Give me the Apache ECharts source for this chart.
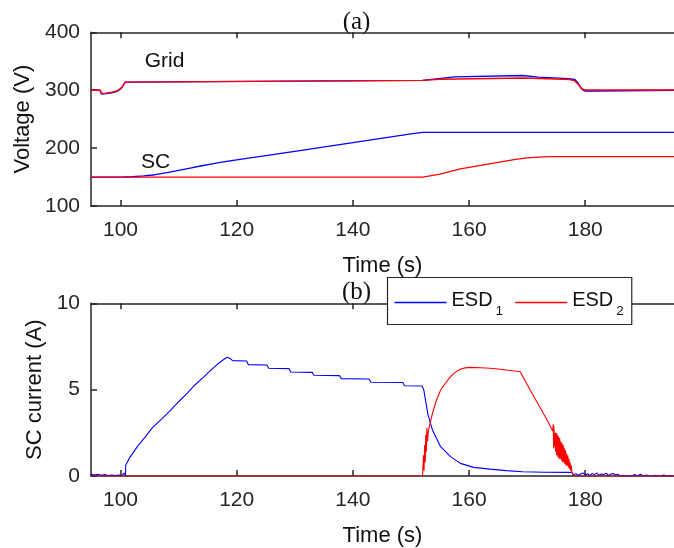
<!DOCTYPE html>
<html><head><meta charset="utf-8">
<script src="https://cdn.jsdelivr.net/npm/echarts/dist/echarts.min.js"></script>
<style>html,body{margin:0;padding:0;background:#fff}#c{width:674px;height:548px}</style>
</head><body><div id="c"></div>
<script>
// ---------- DATA ----------
const xTickValues = [100, 120, 140, 160, 180];
const vTicks = [100, 200, 300, 400];
const iTicks = [0, 5, 10];

// (a) grid voltage, ESD1 (blue) and ESD2 (red)
const tGrid1 = [94.9, 96.5, 96.7, 97.5, 98.5, 99.3, 99.8, 100.2, 100.5, 100.8, 101.0, 152.0, 152.2, 154.7, 154.8, 157.5, 157.6, 169.2, 169.3, 171.9, 172.0, 177.2, 178.2, 178.8, 179.4, 180.0, 182.1, 182.3, 195.3];
const vGrid1 = [300, 300, 293.5, 294, 295.5, 297.5, 300.5, 304, 309, 314, 317, 317, 320, 320, 323, 323, 325.5, 325.5, 322.5, 322.5, 320.5, 320, 318.5, 312, 302, 298.5, 298.5, 300, 300];
const tGrid2 = [94.9, 96.5, 96.7, 97.5, 98.5, 99.3, 99.8, 100.2, 100.5, 100.8, 101.0, 152.0, 152.2, 155.0, 155.1, 169.5, 169.6, 177.4, 178.2, 178.8, 179.4, 180.0, 195.3];
const vGrid2 = [300, 300, 294.5, 295, 296.5, 298.5, 301.5, 304.5, 309, 314, 317, 317, 319, 319, 321, 321, 319, 318.5, 316, 310, 302, 300.3, 300.3];

// (a) SC voltage
const tSc1 = [94.9, 100, 102, 104, 106, 108, 110, 112, 114, 116, 118, 120, 130, 140, 150, 152, 153, 160, 195.3];
const vSc1 = [150, 150, 150.5, 152, 154, 157.5, 161.5, 165.5, 169.5, 173, 176.5, 179.5, 194.5, 209.5, 224.5, 227, 227, 227, 227];
const tSc2 = [94.9, 152, 153, 155, 158.5, 162, 165, 168, 170, 172, 174, 176, 195.3];
const vSc2 = [150, 150, 151.5, 155, 164, 170, 175.5, 180.5, 183, 184.5, 185.2, 185.3, 185.2];

// (b) SC current ESD1
const tCur1 = [94.9, 95.2, 95.5, 95.8, 96.1, 96.4, 96.7, 97.0, 97.3, 97.6, 97.9, 98.2, 98.5, 98.8, 99.1, 99.4, 99.7, 100.0, 100.3, 100.6, 100.85,
  100.9, 101.5, 102.9, 104.3, 105.5, 107.2, 108.6, 110, 111.5, 112.8, 114.2, 115.6, 117, 118.0, 118.4, 118.8, 119.3,
  121.7, 122.0, 125.2, 125.5, 129.0, 129.3, 133.0, 133.3, 137.7, 138.0, 142.8, 143.1, 148.6, 148.9, 151.9,
  152.2, 152.9, 153.7, 155.1, 156.8, 158.5, 160.8, 163.6, 166.4, 169.2, 173, 177.7,
  178.0, 178.4, 178.8, 179.2, 179.6, 180.0, 180.4, 180.8, 181.2, 181.6, 182.0, 182.4, 182.8, 183.2, 183.6, 184.0, 184.4, 184.8, 185.2, 185.6, 186.0,
  186.5, 187, 187.5, 188, 188.5, 189, 189.5, 190, 190.5, 191, 191.5, 192, 192.5, 193, 193.5, 194, 194.5, 195.3];
const iCur1 = [0.12, 0.2, 0.05, 0.15, 0.1, 0.18, 0.04, 0.12, 0.08, 0.16, 0.03, 0.1, 0.06, 0.14, 0.02, 0.09, 0.05, 0.13, 0.04, 0.17, 0.05,
  0.64, 1.02, 1.7, 2.28, 2.8, 3.34, 3.8, 4.3, 4.8, 5.27, 5.7, 6.14, 6.56, 6.8, 6.87, 6.82, 6.68,
  6.66, 6.45, 6.43, 6.24, 6.22, 6.02, 6.0, 5.83, 5.81, 5.64, 5.62, 5.43, 5.41, 5.23, 5.21,
  5.0, 3.6, 2.66, 1.7, 1.12, 0.73, 0.5, 0.4, 0.31, 0.25, 0.22, 0.21,
  0.05, 0.14, 0.03, 0.12, 0.18, 0.06, 0.13, 0.02, 0.15, 0.08, 0.17, 0.04, 0.12, 0.09, 0.16, 0.03, 0.11, 0.14, 0.06, 0.1, 0.02,
  0.0, 0.03, 0.0, 0.0, 0.08, 0.02, 0.1, 0.0, 0.06, 0.0, 0.0, 0.04, 0.0, 0.0, 0.05, 0.0, 0.02, 0.0];

// (b) SC current ESD2
const tCur2 = [94.9, 152.0, 152.15, 152.25, 152.35, 152.45, 152.55, 152.65, 152.75, 152.85, 153.0, 153.4, 153.7, 154.3, 155.1, 156, 156.8, 157.6, 158.5, 159.3, 160.2, 162, 163.6, 165, 166.4, 168.8,
  170.5, 172, 173.5, 174.4, 174.5, 174.55, 174.6, 174.7, 174.8, 174.9, 175.0, 175.1, 175.2, 175.3, 175.4, 175.5, 175.6, 175.7, 175.8, 175.9, 176.0, 176.1, 176.2, 176.3, 176.4, 176.5, 176.6, 176.7, 176.8, 176.9, 177.0, 177.1, 177.2, 177.3, 177.4, 177.5, 177.6, 177.7, 177.8, 177.9, 178.0, 195.3];
const iCur2 = [0, 0, 1.2, 0.3, 1.8, 0.8, 2.4, 1.4, 2.8, 2.0, 2.6, 3.2, 3.63, 4.3, 4.98, 5.4, 5.75, 6.0, 6.18, 6.26, 6.29, 6.27, 6.24, 6.2, 6.14, 6.04,
  5.0, 4.1, 3.2, 2.6, 3.0, 1.6, 2.9, 1.7, 2.5, 1.4, 2.5, 1.2, 2.4, 1.1, 2.3, 1.0, 2.2, 1.0, 2.0, 0.9, 1.9, 0.8, 1.8, 0.8, 1.6, 0.7, 1.5, 0.6, 1.3, 0.6, 1.2, 0.5, 1.0, 0.4, 0.8, 0.3, 0.6, 0.2, 0.3, 0.1, 0, 0];

// ---------- CHART ----------
const zip = (t, v) => t.map((x, i) => [x, v[i]]);
const FONT = '"Liberation Sans", Arial, Helvetica, sans-serif';
const SERIF = '"Liberation Serif", "Times New Roman", serif';
const AX = '#262626';
const BLUE = '#0000ff', RED = '#ff0000';
const XMIN = 94.92, XMAX = 195.28;

function xAxisFor(gridIndex, bottom) {
  return {
    type: 'value', gridIndex: gridIndex, min: XMIN, max: XMAX,
    position: bottom ? 'bottom' : 'top',
    splitLine: { show: false },
    axisLine: { show: true, onZero: false, lineStyle: { color: AX, width: 1.5 } },
    axisTick: { show: true, inside: true, length: 6, customValues: xTickValues, lineStyle: { color: AX, width: 1.5 } },
    axisLabel: bottom ? { show: true, customValues: xTickValues, margin: 14, fontSize: 21, fontFamily: FONT, color: AX } : { show: false },
    name: bottom ? 'Time (s)' : '',
    nameLocation: 'middle', nameGap: 49,
    nameTextStyle: { fontSize: 22, fontFamily: FONT, color: '#111' }
  };
}
function yAxisFor(gridIndex, min, max, interval, name, gap) {
  return {
    type: 'value', gridIndex: gridIndex, min: min, max: max, interval: interval,
    splitLine: { show: false },
    axisLine: { show: true, onZero: false, lineStyle: { color: AX, width: 1.5 } },
    axisTick: { show: true, inside: true, length: 6, lineStyle: { color: AX, width: 1.5 } },
    axisLabel: { margin: 11, fontSize: 21, fontFamily: FONT, color: AX },
    name: name, nameLocation: 'middle', nameGap: gap,
    nameTextStyle: { fontSize: 22, fontFamily: FONT, color: '#111' }
  };
}
function line(name, x, y, data, color, w) {
  return { name: name, type: 'line', xAxisIndex: x, yAxisIndex: y, data: data, showSymbol: false, symbol: 'none',
    lineStyle: { color: color, width: w }, itemStyle: { color: color }, animation: false };
}

const chart = echarts.init(document.getElementById('c'), null, { renderer: 'canvas' });
chart.setOption({
  animation: false,
  backgroundColor: '#fff',
  grid: [
    { left: 91, top: 32.3, width: 593, height: 173.7 },
    { left: 91, top: 303.3, width: 593, height: 172.7 }
  ],
  xAxis: [xAxisFor(0, true), xAxisFor(0, false), xAxisFor(1, true), xAxisFor(1, false)],
  yAxis: [yAxisFor(0, 100, 400, 100, 'Voltage (V)', 55), yAxisFor(1, 0, 10, 5, 'SC current (A)', 44)],
  legend: {
    data: ['ESD1', 'ESD2'], left: 387.5, top: 277.5, orient: 'horizontal',
    padding: [9, 8, 6, 7], itemWidth: 52, itemHeight: 1.4, itemGap: 12,
    icon: 'rect',
    backgroundColor: '#fff', borderColor: AX, borderWidth: 1.2, borderRadius: 0,
    formatter: n => '{m|ESD}{s|' + n.slice(3) + '}',
    textStyle: {
      color: '#111', fontFamily: FONT, fontSize: 20,
      rich: {
        m: { fontSize: 20, fontFamily: FONT, color: '#111', lineHeight: 24, verticalAlign: 'top' },
        s: { fontSize: 13.5, fontFamily: FONT, color: '#111', lineHeight: 13, padding: [18, 0, 0, 3] }
      }
    }
  },
  graphic: [
    { type: 'text', x: 164.5, y: 61, style: { text: 'Grid', font: '21px ' + FONT, fill: '#111', textAlign: 'center', textVerticalAlign: 'middle', verticalAlign: 'middle' } },
    { type: 'text', x: 155.5, y: 162, style: { text: 'SC', font: '21px ' + FONT, fill: '#111', textAlign: 'center', textVerticalAlign: 'middle', verticalAlign: 'middle' } },
    { type: 'text', x: 356.5, y: 22.5, style: { text: '(a)', font: '25px ' + SERIF, fill: '#111', textAlign: 'center', textVerticalAlign: 'middle', verticalAlign: 'middle' } },
    { type: 'text', x: 356.5, y: 292, style: { text: '(b)', font: '25px ' + SERIF, fill: '#111', textAlign: 'center', textVerticalAlign: 'middle', verticalAlign: 'middle' } }
  ],
  series: [
    line('ESD1 grid', 0, 0, zip(tGrid1, vGrid1), BLUE, 1.4),
    line('ESD1 SC', 0, 0, zip(tSc1, vSc1), BLUE, 1.3),
    line('ESD2 grid', 0, 0, zip(tGrid2, vGrid2), RED, 1.4),
    line('ESD2 SC', 0, 0, zip(tSc2, vSc2), RED, 1.3),
    line('ESD1', 2, 1, zip(tCur1, iCur1), BLUE, 1.1),
    line('ESD2', 2, 1, zip(tCur2, iCur2), RED, 1.1)
  ]
});
</script>
</body></html>
